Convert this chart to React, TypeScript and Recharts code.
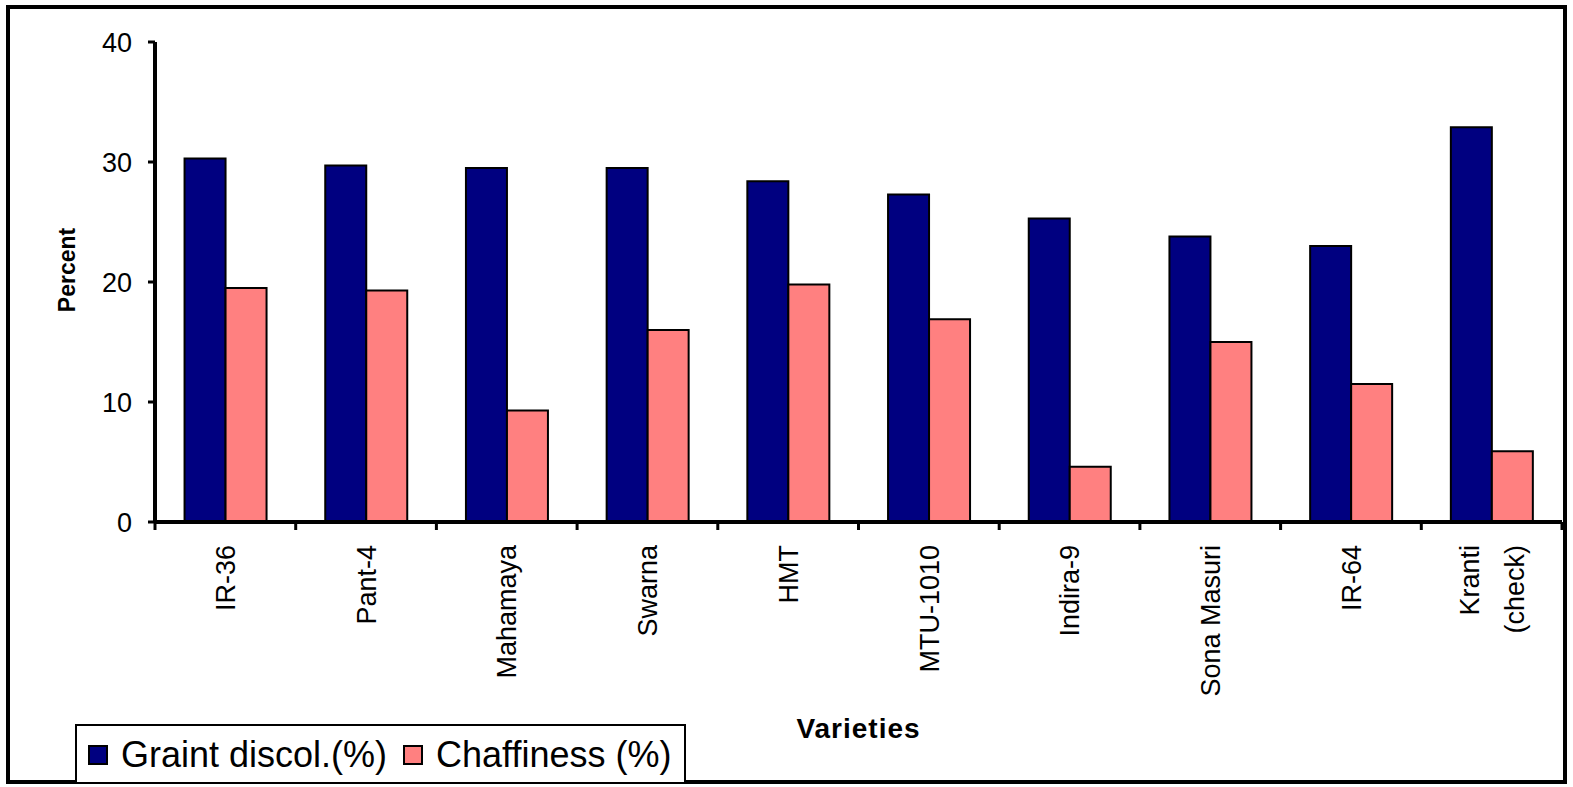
import React from "react";
import { BarChart, Bar, XAxis, YAxis, Label } from "recharts";

// varieties, one bar pair each; "\n" splits a tick label over two lines
const varieties = [
  "IR-36",
  "Pant-4",
  "Mahamaya",
  "Swarna",
  "HMT",
  "MTU-1010",
  "Indira-9",
  "Sona Masuri",
  "IR-64",
  "Kranti\n(check)",
];
const grainDiscol = [30.3, 29.7, 29.5, 29.5, 28.4, 27.3, 25.3, 23.8, 23.0, 32.9];
const chaffiness = [19.5, 19.3, 9.3, 16.0, 19.8, 16.9, 4.6, 15.0, 11.5, 5.9];
const yTicks = [0, 10, 20, 30, 40];
const seriesNames = ["Graint discol.(%)", "Chaffiness (%)"];

const NAVY = "#000080";
const SALMON = "#FF8080";
const FONT = "'Liberation Sans', Arial, Helvetica, sans-serif";

const W = 1573;
const H = 787;
const MARGIN = { top: 42, right: 11, left: 35, bottom: 49 };
const Y_AXIS_W = 120;
const X_AXIS_H = 216;
const BAND = (W - MARGIN.left - MARGIN.right - Y_AXIS_W) / varieties.length;

const data = varieties.map((variety, i) => ({
  variety,
  grain: grainDiscol[i],
  chaff: chaffiness[i],
}));

// category label rotated upward, plus the tick mark on the left band edge
function VarietyTick(props: any) {
  const { x, y, payload, index } = props;
  const half = BAND / 2;
  const lines = String(payload.value).split("\n");
  const lineGap = 45;
  return (
    <g>
      <line x1={x - half} y1={y} x2={x - half} y2={y + 8} stroke="#000" strokeWidth={3} />
      {index === varieties.length - 1 && (
        <line x1={x + half} y1={y} x2={x + half} y2={y + 8} stroke="#000" strokeWidth={3} />
      )}
      <text
        transform={`translate(${x}, ${y + 23}) rotate(-90)`}
        textAnchor="end"
        fontSize={27}
        fontFamily={FONT}
        fill="#000"
      >
        {lines.map((line, i) => (
          <tspan key={i} x={0} y={(i - (lines.length - 1) / 2) * lineGap} dy="0.36em">
            {line}
          </tspan>
        ))}
      </text>
    </g>
  );
}

function PercentLabel(props: any) {
  const { viewBox } = props;
  const cx = viewBox.x + 40;
  const cy = viewBox.y + viewBox.height / 2 - 12;
  return (
    <text
      x={cx}
      y={cy}
      transform={`rotate(-90, ${cx}, ${cy})`}
      textAnchor="middle"
      fontSize={23}
      fontWeight="bold"
      fontFamily={FONT}
      fill="#000"
    >
      Percent
    </text>
  );
}

function LegendBox() {
  const colors = [NAVY, SALMON];
  return (
    <div
      style={{
        position: "absolute",
        left: 75,
        top: 724,
        width: 611,
        height: 60,
        boxSizing: "border-box",
        border: "2px solid #000",
        background: "#fff",
        display: "flex",
        alignItems: "center",
        paddingLeft: 11,
        paddingTop: 2,
        fontFamily: FONT,
        fontSize: 36,
        color: "#000",
      }}
    >
      {seriesNames.map((name, i) => (
        <div key={name} style={{ display: "flex", alignItems: "center", marginRight: 16 }}>
          <span
            style={{
              width: 20,
              height: 20,
              boxSizing: "border-box",
              border: "2px solid #000",
              background: colors[i],
              marginRight: 13,
            }}
          />
          <span style={{ lineHeight: "40px", whiteSpace: "nowrap" }}>{name}</span>
        </div>
      ))}
    </div>
  );
}

export default function App() {
  return (
    <div style={{ position: "relative", width: W, height: H, background: "#fff" }}>
      <style>{"body{margin:0}"}</style>
      <BarChart
        width={W}
        height={H}
        data={data}
        margin={MARGIN}
        barCategoryGap="21%"
        barGap={0}
      >
        <XAxis
          dataKey="variety"
          height={X_AXIS_H}
          interval={0}
          tickSize={0}
          tickMargin={0}
          tickLine={false}
          axisLine={{ stroke: "#000", strokeWidth: 4 }}
          tick={<VarietyTick />}
        >
          <Label
            value="Varieties"
            position="insideBottom"
            offset={0}
            fontSize={28}
            fontWeight="bold"
            fontFamily={FONT}
            fill="#000"
            letterSpacing={1}
          />
        </XAxis>
        <YAxis
          width={Y_AXIS_W}
          domain={[0, 40]}
          ticks={yTicks}
          interval={0}
          tickSize={7}
          tickMargin={16}
          tickLine={{ stroke: "#000", strokeWidth: 3 }}
          axisLine={{ stroke: "#000", strokeWidth: 4 }}
          tick={{ fontSize: 27, fill: "#000", fontFamily: FONT }}
        >
          <Label content={<PercentLabel />} />
        </YAxis>
        <Bar
          dataKey="grain"
          name={seriesNames[0]}
          fill={NAVY}
          stroke="#000"
          strokeWidth={2}
          isAnimationActive={false}
        />
        <Bar
          dataKey="chaff"
          name={seriesNames[1]}
          fill={SALMON}
          stroke="#000"
          strokeWidth={2}
          isAnimationActive={false}
        />
      </BarChart>
      <div
        style={{
          position: "absolute",
          left: 6,
          top: 5,
          width: 1561,
          height: 779,
          boxSizing: "border-box",
          border: "4px solid #000",
          pointerEvents: "none",
        }}
      />
      <LegendBox />
    </div>
  );
}
